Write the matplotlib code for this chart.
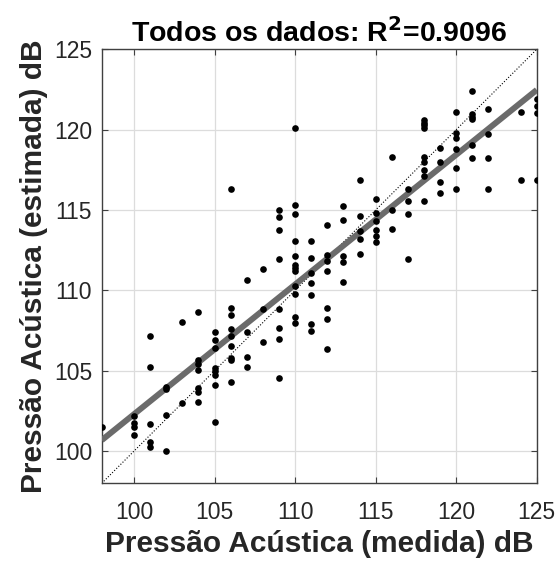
import numpy as np
import matplotlib.pyplot as plt

plt.rcParams['font.family'] = ['Liberation Sans', 'DejaVu Sans']

# Measured level (dB) and the estimated values found at each level
meas_levels = [98, 100, 101, 102, 103, 104, 105, 106, 107, 108, 109, 110, 111,
               112, 113, 114, 115, 116, 117, 118, 119, 120, 121, 122, 124, 125]
est_by_level = [
    [101.52],
    [102.19, 101.77, 101.48, 101.0],
    [107.17, 105.22, 101.67, 100.59, 100.28],
    [103.97, 103.85, 102.27, 100.01],
    [108.06, 102.98],
    [108.66, 105.67, 105.42, 105.05, 103.91, 103.66, 103.08],
    [107.39, 106.94, 106.44, 105.15, 105.0, 104.74, 104.1, 101.79],
    [116.33, 108.89, 108.45, 107.62, 107.19, 106.54, 105.78, 105.67, 104.32],
    [110.65, 107.39, 105.86, 105.22],
    [111.35, 108.82, 106.79],
    [115.0, 114.57, 113.74, 111.98, 108.85, 107.68, 106.98, 104.55],
    [120.13, 115.29, 114.76, 113.1, 112.12, 111.56, 111.38, 111.23, 110.3,
     109.76, 108.35, 107.97],
    [113.1, 112.02, 111.06, 110.48, 109.72, 107.89, 107.48],
    [114.07, 112.18, 111.81, 111.21, 108.91, 108.2, 106.38],
    [115.25, 114.38, 112.16, 111.77, 110.5],
    [116.85, 114.65, 113.72, 113.2, 112.29],
    [115.69, 114.8, 114.34, 113.76, 113.39, 113.01],
    [118.28, 115.0, 113.8],
    [116.33, 115.58, 114.76, 111.98],
    [120.58, 120.42, 120.27, 120.09, 118.3, 118.01, 117.49, 117.1, 115.54],
    [118.88, 117.97, 116.75, 116.06],
    [121.1, 119.77, 119.46, 118.8, 117.62, 116.33],
    [122.41, 121.0, 120.8, 120.64, 119.05, 118.24],
    [121.31, 119.71, 118.22, 116.31],
    [121.12, 116.85],
    [121.89, 121.47, 121.02, 116.85],
]
r2_text = '0.9096'

x = np.concatenate([[m] * len(v) for m, v in zip(meas_levels, est_by_level)])
y = np.concatenate(est_by_level)

#linear fit
p = np.polyfit(x, y, 1)
xl = np.array([98, 125])

fig = plt.figure(figsize=(5.58, 5.65), dpi=100)
ax = fig.add_axes([0.1823, 0.1446, 0.7796, 0.7681])

ax.plot(xl, xl, color='k', linestyle=':', linewidth=0.8, zorder=2)
ax.plot(xl, np.polyval(p, xl), color='#6b6b6b', linewidth=4.3,
        solid_capstyle='butt', zorder=3)
ax.plot(x, y, 'o', color='k', markersize=4.8, markeredgewidth=0, zorder=4)

ax.set_xlim(98, 125)
ax.set_ylim(98, 125)
ax.set_xticks(range(100, 126, 5))
ax.set_yticks(range(100, 126, 5))
ax.grid(True, color='#dcdcdc', linewidth=0.9)
ax.set_axisbelow(True)
for s in ax.spines.values():
    s.set_color('#404040')
    s.set_linewidth(1.0)
ax.tick_params(direction='in', length=4, width=0.8, color='#404040',
               labelsize=16.5, labelcolor='#262626', top=True, right=True)
ax.tick_params(axis='x', pad=13)
ax.tick_params(axis='y', pad=7)

ax.set_xlabel('Pressão Acústica (medida) dB', fontsize=21.5, fontweight='bold',
              color='#262626', labelpad=4)
ax.set_ylabel('Pressão Acústica (estimada) dB', fontsize=21.5, fontweight='bold',
              color='#262626', labelpad=4)
ax.set_title('Todos os dados: R$^{\\mathbf{2}}$=' + r2_text, fontsize=20.5,
             fontweight='bold', pad=5)

fig.savefig('out.png', dpi=100)
